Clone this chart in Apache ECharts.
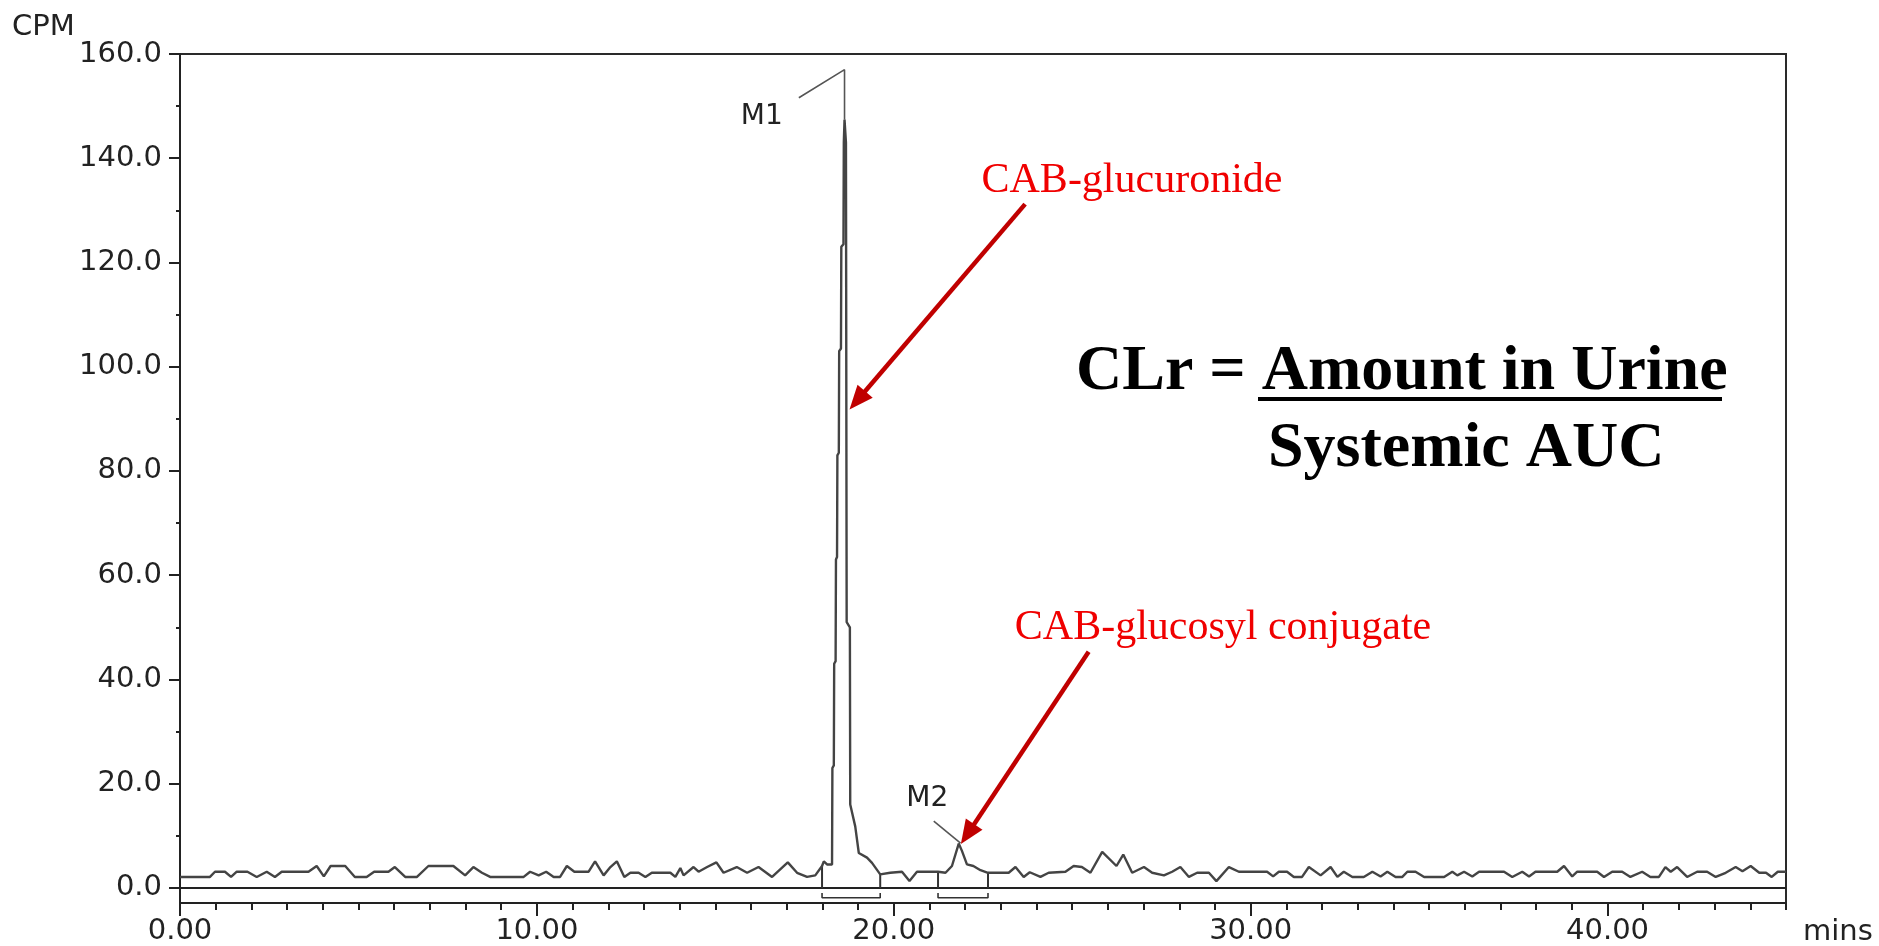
<!DOCTYPE html>
<html>
<head>
<meta charset="utf-8">
<script src="https://cdn.jsdelivr.net/npm/echarts@6/dist/echarts.min.js"></script>
<style>
  html, body { margin: 0; padding: 0; background: #fff; }
  #chart { width: 1879px; height: 946px; }
</style>
</head>
<body>
<div id="chart"></div>
<script>
// radio trace (minutes, CPM)
var timeMin = [0, 0.84, 0.98, 1.26, 1.43, 1.59, 1.89, 2.15, 2.43, 2.66, 2.85, 3.6, 3.83, 4.03, 4.22, 4.63, 4.9, 5.23, 5.44, 5.84,
  6.02, 6.31, 6.64, 6.96, 7.66, 7.99, 8.22, 8.46, 8.69, 9.63, 9.81, 10.05, 10.26, 10.47, 10.65, 10.84, 11.05, 11.45, 11.63, 11.87,
  12.06, 12.24, 12.45, 12.62, 12.85, 13.04, 13.22, 13.74, 13.88, 14.02, 14.11, 14.39, 14.53, 14.77, 15.03, 15.23, 15.6, 15.89, 16.21, 16.59,
  17.03, 17.29, 17.57, 17.8, 17.99, 18.04, 18.13, 18.27,
  18.28, 18.32, 18.33, 18.37, 18.38, 18.41, 18.42, 18.46, 18.47, 18.52, 18.53, 18.59, 18.6, 18.62, 18.66, 18.68, 18.77, 18.78,
  18.92, 19.02, 19.25, 19.39, 19.62, 19.9, 20.23, 20.44, 20.65, 21.24, 21.45, 21.63, 21.82, 21.91, 22.05, 22.23, 22.43, 22.64, 22.99,
  23.22, 23.41, 23.64, 23.81, 24.11, 24.34, 24.81, 25.04, 25.27, 25.51, 25.84, 26.24, 26.43, 26.68, 27.01, 27.24, 27.57, 27.8, 28.03, 28.27,
  28.5, 28.83, 29.04, 29.39, 29.67, 30.46, 30.63, 30.79, 31.02, 31.21, 31.44, 31.63, 31.96, 32.24, 32.43, 32.61, 32.85, 33.17, 33.41, 33.64,
  33.83, 34.06, 34.25, 34.39, 34.62, 34.86, 35.42, 35.65, 35.79, 35.98, 36.21, 36.4, 37.1, 37.33, 37.61, 37.8, 37.98, 38.59, 38.78, 39.01,
  39.15, 39.71, 39.9, 40.13, 40.41, 40.64, 40.97, 41.2, 41.44, 41.62, 41.77, 41.95, 42.23, 42.51, 42.79, 43.03, 43.31, 43.59, 43.78, 44.01,
  44.25, 44.44, 44.6, 44.77, 45];
var cpm = [2.1, 2.1, 3.1, 3.1, 2.1, 3.1, 3.1, 2.1, 3.1, 2.1, 3.1, 3.1, 4.2, 2.2, 4.2, 4.2, 2.1, 2.1, 3.1, 3.1,
  4.0, 2.1, 2.1, 4.2, 4.2, 2.4, 4.0, 2.9, 2.1, 2.1, 3.1, 2.4, 3.1, 2.1, 2.1, 4.2, 3.1, 3.1, 5.1, 2.4,
  4.0, 5.1, 2.1, 2.9, 2.9, 2.1, 2.9, 2.9, 2.1, 3.8, 2.4, 4.0, 3.1, 4.0, 4.9, 2.9, 4.0, 2.9, 4.0, 2.1,
  4.9, 2.9, 2.1, 2.4, 4.2, 5.1, 4.5, 4.5,
  23, 23.5, 43, 43.5, 63, 63.5, 83, 83.5, 103, 103.5, 123, 123.5, 143, 147.4, 143, 51, 50, 16,
  11.8, 6.7, 5.8, 4.8, 2.6, 2.9, 3.1, 1.3, 3.1, 3.1, 2.9, 4.2, 8.5, 7.1, 4.5, 4.2, 3.4, 2.9, 2.9,
  2.9, 4.0, 2.1, 3.0, 2.1, 2.9, 3.1, 4.2, 4.0, 2.9, 6.9, 4.2, 6.4, 2.9, 4.0, 2.9, 2.4, 3.1, 4.0, 2.1,
  2.9, 2.9, 1.3, 4.0, 3.1, 3.1, 2.2, 3.1, 3.1, 2.1, 2.1, 4.0, 2.4, 4.0, 2.1, 3.1, 2.1, 2.1, 3.1, 2.2,
  3.1, 2.1, 2.1, 3.1, 3.1, 2.1, 2.1, 3.1, 2.4, 3.1, 2.2, 3.1, 3.1, 2.1, 3.1, 2.2, 3.1, 3.1, 4.2, 2.2,
  3.1, 3.1, 2.1, 3.1, 3.1, 2.1, 3.1, 2.1, 2.1, 4.0, 3.1, 4.0, 2.1, 3.1, 3.1, 2.1, 2.9, 4.0, 3.2, 4.2,
  2.9, 2.9, 2.1, 3.1, 3.1];

// integration windows
var peakStart = [17.99, 21.24];
var peakEnd = [19.62, 22.64];
var startCpm = [4.2, 3.1];
var endCpm = [2.6, 2.9];

// axis ticks
var yMajor = [0, 20, 40, 60, 80, 100, 120, 140, 160];
var yMinor = [10, 30, 50, 70, 90, 110, 130, 150];
var xMajor = [0, 10, 20, 30, 40];
var xMinor = [1, 2, 3, 4, 5, 6, 7, 8, 9, 11, 12, 13, 14, 15, 16, 17, 18, 19, 21, 22, 23, 24, 25, 26, 27, 28, 29,
  31, 32, 33, 34, 35, 36, 37, 38, 39, 41, 42, 43, 44, 45];

// peak labels and leader lines
var m1Leader = [[18.62, 147.4], [18.62, 157], [17.34, 151.6]];
var m2Leader = [[21.12, 12.8], [21.87, 8.6]];
var peakNames = ['M1', 'M2'];
var peakNamePos = [[16.3, 148], [20.94, 17.1]];

// red call-outs
var calloutText = ['CAB-glucuronide', 'CAB-glucosyl conjugate'];
var calloutFrom = [[23.68, 131.2], [25.46, 45.3]];
var calloutTo = [[18.76, 91.8], [21.88, 8.4]];

var Y_MIN = -2.9, Y_MAX = 160;
var axisFont = 'DejaVu Sans';

var chart = echarts.init(document.getElementById('chart'));

var trace = timeMin.map(function (t, i) { return [t, cpm[i]]; });

var series = [
  {
    type: 'line', data: trace, showSymbol: false, symbol: 'none', z: 4,
    lineStyle: { color: '#444', width: 2.4 }
  },
  {
    type: 'line', data: [[0, 0], [45, 0]], symbol: 'none', z: 3,
    lineStyle: { color: '#222', width: 2 }
  },
  { type: 'line', data: m1Leader, symbol: 'none', z: 3, lineStyle: { color: '#555', width: 1.6 } },
  { type: 'line', data: m2Leader, symbol: 'none', z: 3, lineStyle: { color: '#555', width: 1.6 } }
];
peakStart.forEach(function (s, i) {
  var e = peakEnd[i];
  series.push({ type: 'line', data: [[s, startCpm[i]], [s, 0]], symbol: 'none', lineStyle: { color: '#333', width: 2 } });
  series.push({ type: 'line', data: [[e, endCpm[i]], [e, 0]], symbol: 'none', lineStyle: { color: '#333', width: 2 } });
  series.push({ type: 'line', data: [[s, -1.0], [s, -1.9], [e, -1.9], [e, -1.0]], symbol: 'none', lineStyle: { color: '#333', width: 1.6 } });
});

var option = {
  animation: false,
  backgroundColor: '#fff',
  grid: {
    left: 180, right: 93, top: 54, bottom: 43,
    show: true, borderColor: '#2a2a2a', borderWidth: 2
  },
  xAxis: [
    {
      type: 'value', min: 0, max: 45, position: 'bottom',
      axisLine: { onZero: false, lineStyle: { color: '#222', width: 2 } },
      axisTick: { customValues: xMajor, length: 13, lineStyle: { color: '#222', width: 2 } },
      axisLabel: {
        customValues: xMajor, margin: 14, color: '#222', fontFamily: axisFont, fontSize: 29,
        formatter: function (v) { return v.toFixed(2); }
      },
      splitLine: { show: false }
    },
    {
      type: 'value', min: 0, max: 45, position: 'bottom',
      axisLine: { show: false, onZero: false },
      axisTick: { customValues: xMinor, length: 7, lineStyle: { color: '#222', width: 2 } },
      axisLabel: { show: false },
      splitLine: { show: false }
    }
  ],
  yAxis: [
    {
      type: 'value', min: Y_MIN, max: Y_MAX, position: 'left',
      axisLine: { show: true, onZero: false, lineStyle: { color: '#222', width: 2 } },
      axisTick: { show: true, customValues: yMajor, length: 11, lineStyle: { color: '#222', width: 2 } },
      axisLabel: {
        customValues: yMajor, margin: 18, color: '#222', fontFamily: axisFont, fontSize: 29,
        formatter: function (v) { return v.toFixed(1); }
      },
      splitLine: { show: false }
    },
    {
      type: 'value', min: Y_MIN, max: Y_MAX, position: 'left',
      axisLine: { show: false, onZero: false },
      axisTick: { show: true, customValues: yMinor, length: 4, lineStyle: { color: '#222', width: 2 } },
      axisLabel: { show: false },
      splitLine: { show: false }
    }
  ],
  series: series
};
chart.setOption(option);

// annotations anchored to data coordinates
function px(p) { return chart.convertToPixel({ xAxisIndex: 0, yAxisIndex: 0 }, p); }

var graphics = [];
graphics.push({ type: 'text', style: { x: 12, y: 27, text: 'CPM', font: '29px "DejaVu Sans"', fill: '#222', align: 'left', verticalAlign: 'middle' } });
graphics.push({ type: 'text', style: { x: 1803, y: 932, text: 'mins', font: '29px "DejaVu Sans"', fill: '#222', align: 'left', verticalAlign: 'middle' } });

peakNames.forEach(function (n, i) {
  var p = px(peakNamePos[i]);
  graphics.push({ type: 'text', style: { x: p[0], y: p[1], text: n, font: '28px "DejaVu Sans"', fill: '#222', align: 'center', verticalAlign: 'middle' } });
});

var textAnchor = [[1132, 181], [1223, 628]];
calloutText.forEach(function (t, i) {
  graphics.push({ type: 'text', style: { x: textAnchor[i][0], y: textAnchor[i][1], text: t, font: '42px "Liberation Serif"', fill: '#f00000', align: 'center', verticalAlign: 'middle' } });
  var a = px(calloutFrom[i]), b = px(calloutTo[i]);
  var dx = b[0] - a[0], dy = b[1] - a[1], len = Math.sqrt(dx * dx + dy * dy);
  var ux = dx / len, uy = dy / len, L = 24, W = 10;
  var bx = b[0] - ux * L, by = b[1] - uy * L;
  graphics.push({ type: 'line', shape: { x1: a[0], y1: a[1], x2: bx + ux * 4, y2: by + uy * 4 }, style: { stroke: '#c00000', lineWidth: 4.5 } });
  graphics.push({ type: 'polygon', shape: { points: [[b[0], b[1]], [bx - uy * W, by + ux * W], [bx + uy * W, by - ux * W]] }, style: { fill: '#c00000' } });
});

// formula
var serifBold = 'bold 64px "Liberation Serif"';
graphics.push({ type: 'text', style: { x: 1076, y: 372, text: 'CLr = Amount in Urine', font: serifBold, fill: '#000', align: 'left', verticalAlign: 'middle' } });
graphics.push({ type: 'rect', shape: { x: 1258, y: 397, width: 464, height: 4 }, style: { fill: '#000' } });
graphics.push({ type: 'text', style: { x: 1268, y: 449, text: 'Systemic AUC', font: serifBold, fill: '#000', align: 'left', verticalAlign: 'middle' } });

chart.setOption({ graphic: graphics });
</script>
</body>
</html>
